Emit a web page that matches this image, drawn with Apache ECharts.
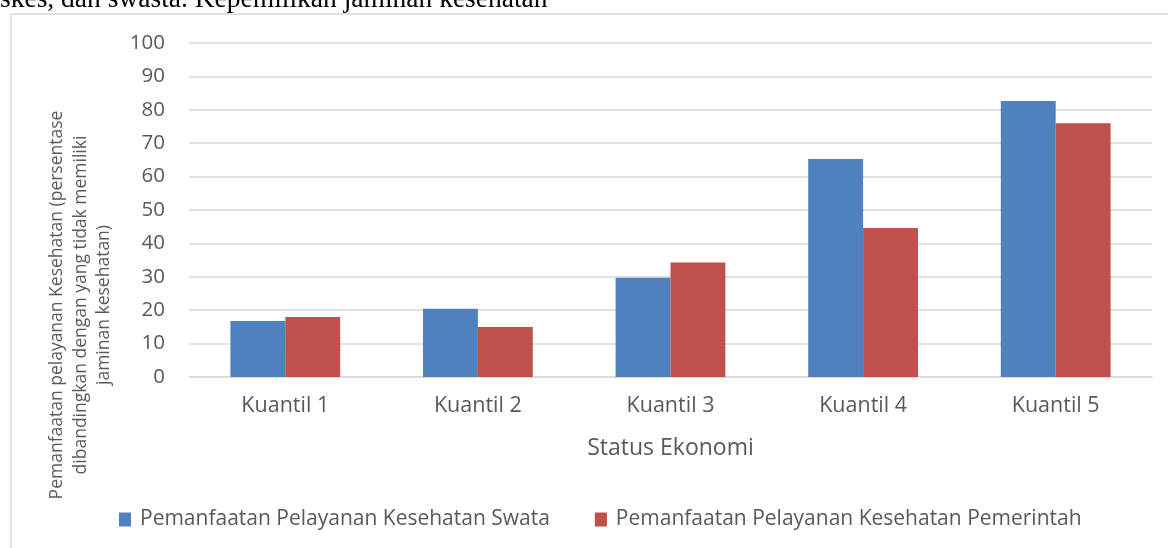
<!DOCTYPE html>
<html><head><meta charset="utf-8">
<script src="https://cdn.jsdelivr.net/npm/echarts@6/dist/echarts.min.js"></script>
<style>html,body{margin:0;padding:0;background:#fff}#c{width:1168px;height:548px}</style>
</head><body><div id="c"></div>
<script>
const categories = ['Kuantil 1', 'Kuantil 2', 'Kuantil 3', 'Kuantil 4', 'Kuantil 5'];
const swasta = [16.8, 20.4, 29.7, 65.3, 82.6];
const pemerintah = [18.0, 15.0, 34.3, 44.6, 76.0];
const seriesNames = ['Pemanfaatan Pelayanan Kesehatan Swata', 'Pemanfaatan Pelayanan Kesehatan Pemerintah'];
const yTitleLines = ['Pemanfaatan pelayanan Kesehatan (persentase', 'dibandingkan dengan yang tidak memiliki', 'jaminan kesehatan)'];
const xTitle = 'Status Ekonomi';
const caption = 'skes, dan swasta. Kepemilikan jaminan kesehatan';

const font = '"Open Sans", sans-serif';
const chart = echarts.init(document.getElementById('c'));
chart.setOption({
  animation: false,
  backgroundColor: '#fff',
  grid: { left: 189, right: 16, top: 43, bottom: 171 },
  legend: {
    bottom: 13, left: 114, itemWidth: 12, itemHeight: 14, itemGap: 45,
    icon: 'rect',
    textStyle: { color: '#595959', fontSize: 21, fontFamily: font, padding: [0, 0, 0, 4] },
    data: seriesNames
  },
  xAxis: {
    type: 'category', data: categories,
    axisLine: { lineStyle: { color: '#d9d9d9', width: 1.5 } },
    axisTick: { show: false },
    axisLabel: { color: '#595959', fontSize: 21.5, fontFamily: font, margin: 18 },
    name: xTitle, nameLocation: 'middle', nameGap: 60,
    nameTextStyle: { color: '#595959', fontSize: 23, fontFamily: font }
  },
  yAxis: {
    type: 'value', min: 0, max: 100, interval: 10,
    axisLine: { show: false }, axisTick: { show: false },
    splitLine: { lineStyle: { color: '#d9d9d9', width: 1.5 } },
    axisLabel: { color: '#595959', fontSize: 20.5, fontFamily: font, margin: 24 }
  },
  series: [
    { name: seriesNames[0], type: 'bar', data: swasta, barGap: '0%', barCategoryGap: '43%',
      itemStyle: { color: '#4F81BD' } },
    { name: seriesNames[1], type: 'bar', data: pemerintah,
      itemStyle: { color: '#C0504D' } }
  ],
  graphic: [
    { type: 'rect', shape: { x: 11, y: 14, width: 1300, height: 700 }, silent: true, z: -1,
      style: { fill: 'none', stroke: '#d9d9d9', lineWidth: 1.5 } },
    { type: 'text', x: 0, y: 14, silent: true,
      style: { text: caption, font: '27.5px "Liberation Serif", serif', fill: '#000', verticalAlign: 'bottom' } },
    { type: 'text', x: 81, y: 305, rotation: Math.PI / 2, silent: true,
      style: { text: yTitleLines.join('\n'), align: 'center', verticalAlign: 'middle', lineHeight: 23.5,
        font: '17.5px "Open Sans", sans-serif', fill: '#595959' } }
  ]
});
</script></body></html>
